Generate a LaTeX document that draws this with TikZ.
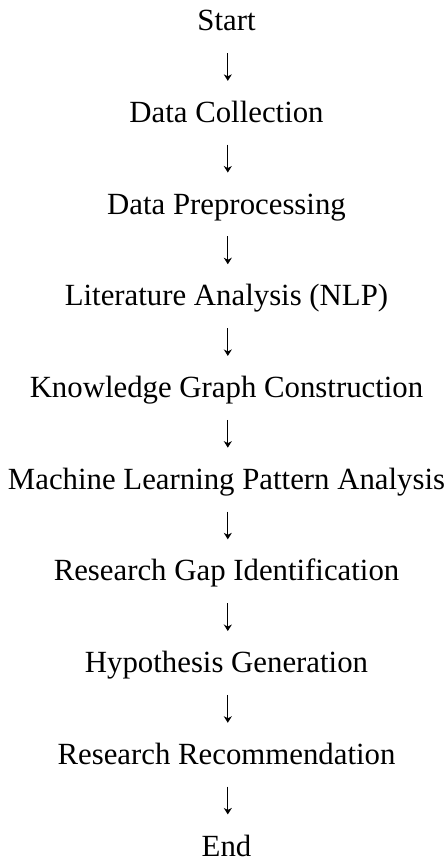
\documentclass[tikz,border=0pt]{standalone}
\usepackage{fontspec}
\setmainfont{Liberation Serif}
\usetikzlibrary{arrows.meta}
\begin{document}
\begin{tikzpicture}[x=1pt,y=1pt,
  lbl/.style={anchor=base, inner sep=0pt, font=\fontsize{30.8}{36}\selectfont},
  flowarrow/.style={line width=1.2pt, -{Stealth[length=6.5pt,width=8pt,inset=2pt]}}]
\useasboundingbox (0,0) rectangle (447,-861);
\node[lbl] (s0) at (226.5,-30.7) {Start};
\node[lbl] (s1) at (226.5,-122.4) {Data Collection};
\node[lbl] (s2) at (226.5,-214.1) {Data Preprocessing};
\node[lbl] (s3) at (226.5,-305.8) {Literature Analysis (NLP)};
\node[lbl] (s4) at (226.5,-397.5) {Knowledge Graph Construction};
\node[lbl] (s5) at (226.5,-489.2) {Machine Learning Pattern Analysis};
\node[lbl] (s6) at (226.5,-580.9) {Research Gap Identification};
\node[lbl] (s7) at (226.5,-672.6) {Hypothesis Generation};
\node[lbl] (s8) at (226.5,-764.3) {Research Recommendation};
\node[lbl] (s9) at (226.5,-856.0) {End};
\foreach \i/\b in {1/76.55,2/168.25,3/259.95,4/351.65,5/443.35,6/535.05,7/626.75,8/718.45,9/810.15}{
  \coordinate (t\i) at (227.8,-\b+23.5);
  \coordinate (h\i) at (227.8,-\b-4.3);
  \draw[flowarrow] (t\i) -- (h\i);
}
\end{tikzpicture}
\end{document}
